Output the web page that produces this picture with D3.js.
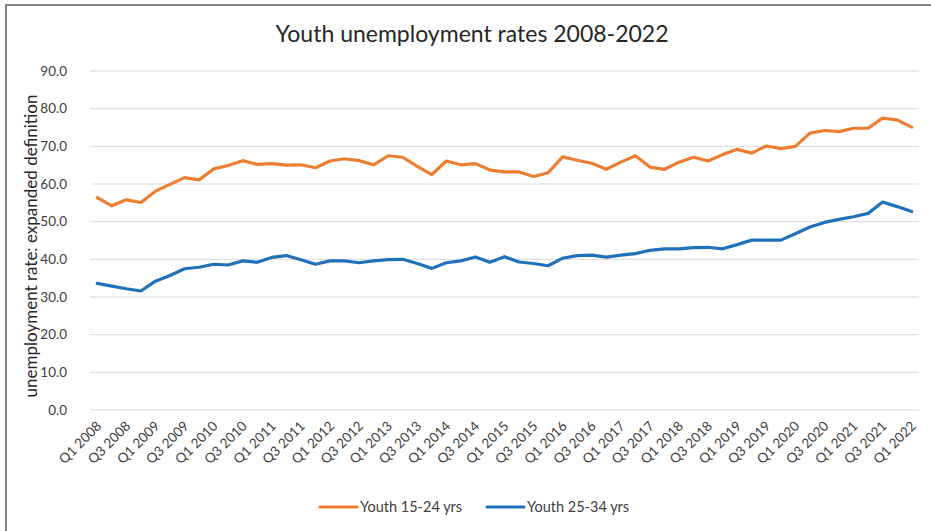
<!DOCTYPE html>
<html>
<head>
<meta charset="utf-8">
<script src="https://cdn.jsdelivr.net/npm/d3@7"></script>
<style>
  html, body { margin: 0; padding: 0; background: #fff; }
  svg { display: block; font-family: Lato, "Open Sans", sans-serif; }
</style>
</head>
<body>
<svg id="chart" width="931" height="531"></svg>
<script>
const years = d3.range(2008, 2023);
const quarters = [];
years.forEach(y => ["Q1","Q2","Q3","Q4"].forEach(q => { if (!(y === 2022 && q !== "Q1")) quarters.push(q + " " + y); }));

const youth1524 = [
  56.4, 54.2, 55.8, 55.1, 58.1, 59.9, 61.7, 61.1, 64.0, 64.9,
  66.2, 65.2, 65.4, 65.0, 65.1, 64.3, 66.1, 66.7, 66.2, 65.1,
  67.5, 67.1, 64.7, 62.5, 66.1, 65.1, 65.4, 63.7, 63.2, 63.2,
  62.0, 63.0, 67.2, 66.3, 65.5, 63.9, 65.8, 67.5, 64.5, 63.9,
  65.8, 67.1, 66.1, 67.8, 69.2, 68.2, 70.1, 69.4, 70.0, 73.5,
  74.2, 73.9, 74.8, 74.8, 77.5, 77.0, 75.1
];
const youth2534 = [
  33.6, 32.9, 32.2, 31.6, 34.2, 35.7, 37.5, 37.9, 38.7, 38.5,
  39.6, 39.2, 40.5, 41.0, 39.9, 38.7, 39.6, 39.6, 39.1, 39.6,
  39.9, 40.0, 38.9, 37.6, 39.1, 39.6, 40.6, 39.2, 40.7, 39.3,
  38.9, 38.3, 40.3, 41.0, 41.1, 40.6, 41.1, 41.5, 42.4, 42.8,
  42.8, 43.1, 43.2, 42.8, 43.9, 45.1, 45.1, 45.1, 46.8, 48.6,
  49.8, 50.6, 51.3, 52.2, 55.2, 54.0, 52.7
];
const yTicks = [0, 10, 20, 30, 40, 50, 60, 70, 80, 90];
const seriesNames = ["Youth 15-24 yrs", "Youth 25-34 yrs"];
const seriesColors = ["#ED7D31", "#1F72BA"];

const svg = d3.select("#chart");
const margin = { left: 90, right: 12, top: 71, bottom: 121 };
const W = 931, H = 531;

// frame
svg.append("rect").attr("x", 6).attr("y", 5).attr("width", 930).attr("height", 540)
  .attr("fill", "none").attr("stroke", "#595959").attr("stroke-width", 1.5);

const x = d3.scaleBand().domain(quarters).range([margin.left, W - margin.right]);
const y = d3.scaleLinear().domain([0, 90]).range([H - margin.bottom, margin.top]);

// gridlines
svg.append("g").selectAll("line").data(yTicks).join("line")
  .attr("x1", margin.left).attr("x2", W - margin.right)
  .attr("y1", d => y(d)).attr("y2", d => y(d))
  .attr("stroke", "#D9D9D9").attr("stroke-width", 1);

// y axis labels
const yAxis = d3.axisLeft(y).tickValues(yTicks).tickFormat(d3.format(".1f")).tickSize(0).tickPadding(23);
const gy = svg.append("g").attr("transform", `translate(${margin.left},0)`).call(yAxis);
gy.select(".domain").remove();
gy.selectAll("text").attr("font-size", 13.5).attr("fill", "#404040").attr("font-family", "Lato, sans-serif");

// x axis labels
const xAxis = d3.axisBottom(x).tickValues(quarters.filter((q, i) => i % 2 === 0)).tickSize(0).tickPadding(0);
const gx = svg.append("g").attr("transform", `translate(0,${H - margin.bottom})`).call(xAxis);
gx.select(".domain").remove();
gx.selectAll("text")
  .attr("font-size", 13.5).attr("fill", "#404040").attr("font-family", "Lato, sans-serif")
  .attr("text-anchor", "end").attr("dy", 0)
  .attr("transform", "translate(5,17) rotate(-45)");

// lines
const line = d3.line().x((d, i) => x(quarters[i]) + x.bandwidth() / 2).y(d => y(d));
[youth1524, youth2534].forEach((s, k) => {
  svg.append("path").datum(s).attr("d", line)
    .attr("fill", "none").attr("stroke", seriesColors[k]).attr("stroke-width", 3.2)
    .attr("stroke-linejoin", "round").attr("stroke-linecap", "round");
});

// title
svg.append("text").attr("x", 472).attr("y", 42).attr("text-anchor", "middle")
  .attr("font-size", 23).attr("fill", "#262626").text("Youth unemployment rates 2008-2022");

// y axis title
svg.append("text").attr("transform", "translate(37,246) rotate(-90)").attr("text-anchor", "middle")
  .attr("font-size", 17).attr("fill", "#262626").text("unemployment rate: expanded definition");

// legend
const legendX = [320, 487];
seriesNames.forEach((n, k) => {
  const g = svg.append("g").attr("transform", `translate(${legendX[k]},507)`);
  g.append("line").attr("x1", 0).attr("x2", 37).attr("y1", 0).attr("y2", 0)
    .attr("stroke", seriesColors[k]).attr("stroke-width", 3.2).attr("stroke-linecap", "round");
  g.append("text").attr("x", 40).attr("y", 5).attr("font-size", 14.5).attr("fill", "#404040").text(n);
});
</script>
</body>
</html>
